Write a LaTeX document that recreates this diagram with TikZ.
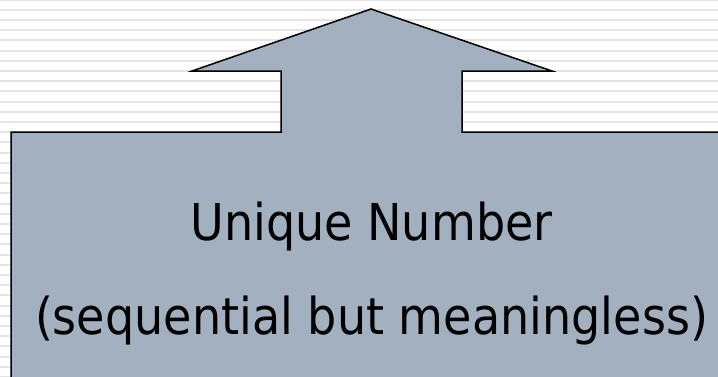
\documentclass[tikz,border=0pt]{standalone}
\usepackage{fontspec}
\setmainfont{DejaVu Sans}
\usepackage{graphicx}
\definecolor{boxfill}{RGB}{162,176,191}
\definecolor{stripe}{RGB}{228,228,228}
\tikzset{
  shapeline/.style={draw=black, line width=1.5pt, fill=boxfill, line join=miter},
  stripeline/.style={draw=stripe, line width=2pt},
  label/.style={inner sep=0pt, anchor=base, text=black, font=\fontsize{50.8}{60}\selectfont}
}
\newlength\lnbwidth
\begin{document}
\settowidth\lnbwidth{\fontsize{50.8}{60}\selectfont (sequential but meaningless)}%
\pgfmathsetmacro\fx{673/\lnbwidth}%
\begin{tikzpicture}[x=1pt, y=-1pt]
\useasboundingbox (0,0) rectangle (718,376);
\clip (0,0) rectangle (718,376);
\fill[white] (0,0) rectangle (718,376);
\foreach \k in {0,...,37} {
  \draw[stripeline] (0,{-0.5+10.2*\k}) -- (718,{-0.5+10.2*\k});
}
\draw[shapeline] (11,400) -- (11,132) -- (281,132) -- (281,71) -- (192,71)
  -- (371,9) -- (552,71) -- (462,71) -- (462,132) -- (740,132) -- (740,400) -- cycle;
\node[label] (title) at (371.5,240) {\scalebox{\fx}[1]{Unique Number}};
\node[label] (sub) at (371.5,334) {\scalebox{\fx}[1]{(sequential but meaningless)}};
\end{tikzpicture}
\end{document}
